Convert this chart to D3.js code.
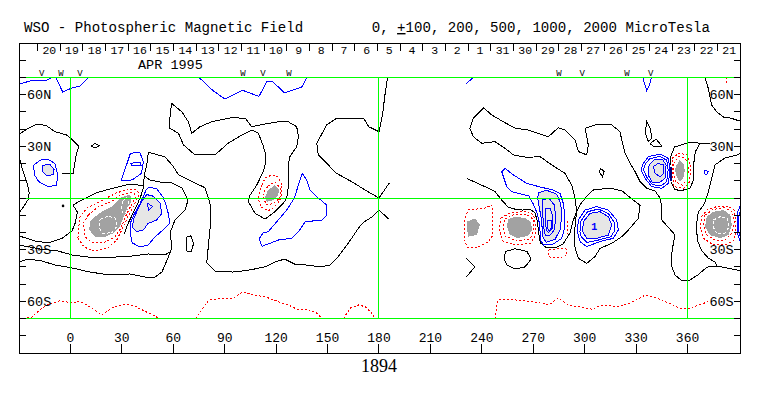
<!DOCTYPE html>
<html>
<head>
<meta charset="utf-8">
<script src="https://cdn.jsdelivr.net/npm/d3@7"></script>
<style>
body { margin: 0; background: #fff; }
svg { display: block; }
text { font-family: "Liberation Mono", "Courier New", monospace; fill: #000; }
</style>
</head>
<body>
<script>
// ---------------------------------------------------------------------------
// DATA  (Carrington longitude, latitude) read off the WSO synoptic chart 1894
// ---------------------------------------------------------------------------
var titleLeft  = "WSO - Photospheric Magnetic Field"
  , monthLabel = "APR 1995"
  , rotation   = "1894"
  , dayLabels  = [20,19,18,17,16,15,14,13,12,11,10,9,8,7,6,5,4,3,2,1,31,30,29,28,27,26,25,24,23,22,21]
  , dayTick0   = -19.2      // first day boundary, degrees
  , dayStep    = 13.22      // degrees of Carrington longitude per day
  , lonTicks   = [0,30,60,90,120,150,180,210,240,270,300,330,360]
  , latLabels  = [60,30,-30,-60]
  , markerLons = [-16.7,-5.5,5.6,100.7,112.3,127.5,285,298.5,324.7,338.5]
  , markerText = ["V","W","V","W","V","W","W","V","W","V"]

// neutral lines (0 contour), open
var blackLines = [
  [[-30,37],[-24.5,40.5],[-19.5,43],[-14,42],[-9,38.5],[-2,36.5],[1.5,33.5],[5,30],[3.5,26],[2.5,20],[1.5,14],[-5,14]],
  [[-30,25],[-28.5,18],[-25.5,9.5],[-24,3],[-24.7,-1],[-28,-6],[-30,-8.7]],
  [[185.5,-12],[180,-7],[176,-11],[171,-14],[168,-17.5],[164,-23.5],[160,-29],[155.5,-35],[151.5,-39],[145.5,-40],[139,-39],[131,-38.5],[125,-35.5],[119.5,-37],[113.5,-40],[103.5,-42],[94.5,-43],[84.5,-42.5],[79.5,-37.5],[80.5,-27.5],[81.5,-17.5],[82,-6],[80.5,0],[78.5,6],[71,9.5],[63,13.5],[59.5,19],[55,24],[45.5,26.5],[44.5,19],[43,12.8]],
  [[43,12.8],[42.8,7],[41.3,1.7],[39.3,-3],[36.2,-9.5],[33.3,-15.5],[31.5,-21]],
  [[43,12.8],[46.4,10.5],[52.3,9.3],[59.3,8.7],[65.1,5.8],[68.6,-1.2],[66.9,-7],[61,-12.8],[58.1,-20.3],[59.3,-28.5],[56.4,-36],[53.4,-43],[49.3,-45.9],[43.5,-45.9],[34.8,-44.1],[23.1,-44.7],[11.4,-43],[0.9,-40.6],[-9,-38.9],[-16.6,-36.6],[-24.7,-35.4],[-30,-37.2]],
  [[42.8,7],[37,8],[32,7.5],[24.3,5.5],[15.5,3.2],[10.3,0.5],[5.6,-1.7],[1.5,-4.1],[4,-8.1],[3,-14],[1,-19],[-5,-23.5],[-13,-26],[-20.5,-25],[-30,-22]],
  [[-30,-27.3],[-17.7,-29.6],[-7.2,-30.8],[1,-33.1],[10.3,-34.3],[26,-34.3],[36,-33.7],[45.3,-32.5],[55,-33.1],[58,-31.4]],
  [[185,70],[183.5,60],[182,48],[180,38.5],[180,0]],
  [[180,38.5],[174,41.4],[171,46.3],[155.3,46.3],[149.5,42.4],[143.7,31.8],[144.6,25],[150.4,19.2],[155.3,14.3],[164,9.5],[172,4.6],[180,0],[186,8.7]],
  [[231,-35],[236,-40],[231,-45.7]],
  [[233,40.5],[235,46.3],[241,52.4],[245.8,48.2],[252.5,44.3],[259.4,40.5],[267,39.5],[278.8,35.6],[284.6,40.8],[288.5,39.5],[294.4,33.7],[296.3,27],[301.2,25],[302.1,30.8],[300.2,40.5],[306,42.4],[315.8,42.4],[320.6,38.5],[321.6,33.7],[323.5,26],[326.4,20.2],[329.4,15.3],[332.3,9.5],[336.2,5.6],[341,4.1],[344,0],[345,-5.8],[345,-12.8],[348.6,-16.8],[352.7,-21.5],[351,-30.2],[350.4,-38.9],[352.7,-44.7],[356.8,-48.2],[361.4,-47.6],[366,-44.7],[371.4,-40.1],[377.2,-39.5],[389,-41.8],[391,-42.4]],
  [[233,40.5],[235,35.6],[240,31.8],[247.7,32.7],[253.5,28.9],[258.4,25],[266.2,23.6],[274,24],[280.8,19.2],[288.5,14.3],[292.4,7.5],[294.4,0],[295.3,-8]],
  [[231.2,11.4],[241.8,6.6],[247.7,3.7],[251.6,-1.2],[255.3,-5.2],[260,-6.7],[264,-7],[268,-6.4],[271,-8.7],[272.5,-13.9],[273.1,-20.3],[274.2,-26.1],[277.4,-28.7],[283.3,-28.7],[287.4,-26.7],[291.4,-20.3],[293.2,-13.4],[295.3,-8]],
  [[370,70],[372,64],[374,54],[377,50],[381,47],[385.5,46.3],[391,44.5]],
  [[391,26],[389,25],[381.8,23.2],[376,19.2],[374.3,12.2],[372,2.9],[369.5,-4],[366.3,-8.1],[365.2,-15.7],[365.7,-24.4],[368,-30.2],[372,-34.8],[376,-37.2],[377.2,-39.5]],
  [[350,19.2],[350.3,24.4],[352.4,29.6],[360.1,32.1],[367.2,31.9],[373,31.4]],
  [[387,30.2],[391,29.6]],
  [[367.2,31.9],[364.5,26.7],[363.5,19.2],[363.5,10.5],[361.5,5.8],[355.9,4.1],[352.4,5.2],[350.3,9.3]]
]

// neutral lines, closed
var blackLoops = [
  [[12.3,30.2],[14.3,31.6],[16.7,30.4],[14.3,29]],
  [[68,-22.6],[70.3,-22],[71.8,-26.7],[70.3,-31.4],[68,-30.8],[67.4,-26.7]],
  [[59,55],[65,50],[68.8,44.3],[70.8,37.6],[75.6,41.4],[82.4,44.3],[94,46.6],[102,46.3],[105.8,41.4],[113.5,43],[121.3,44.3],[127,44.3],[132,41.4],[133,35.6],[132,29.8],[128,24],[127,19.2],[127.5,13.4],[127,5.6],[126.2,0],[124.2,-3.1],[119.3,-8],[113.5,-12.2],[107.7,-8.9],[103.8,-2.1],[104.8,1.7],[108.7,7.5],[112.5,15.3],[114,21],[113.5,26.7],[112.3,30.8],[109.6,37.6],[105.8,39.5],[100,36.6],[92,31.8],[84.3,25],[72.7,25],[66,30.8],[63,37.6],[58,40.5],[58,46.3]],
  [[295.3,-8],[297.3,-4],[300.8,0.6],[304.8,4.6],[314.8,5.8],[321.8,4.1],[328.2,-1.2],[332.3,-4.1],[331.3,-11.8],[326.4,-17.6],[321.6,-22.5],[315.8,-26.3],[309,-29.2],[306,-34],[301.2,-38],[296.3,-35],[294.4,-29.2],[294,-23.4],[294.4,-15.7]],
  [[254,-31],[259.4,-29.5],[266.3,-31],[268.7,-35.5],[265.2,-40],[259.4,-41.2],[254.7,-39],[252.9,-35]],
  [[308.4,15.3],[309.3,17.2],[311.3,15.3],[310.3,12.4]],
  [[336.2,44.3],[338.1,40.6],[339.3,34.8],[337.2,32.7],[335.3,37.7]],
  [[338.1,31.4],[341.6,34.3],[344.9,30.2],[341,29.6]]
]
var blackDots = [[-4.3,-4.6]]

// positive contours (blue)
var blueLines = [
  [[-30,66],[-23.5,68],[-13.5,68.5],[-11,70]],
  [[-8.5,70],[-4.5,61.5],[1,64],[5.5,65],[10.5,70]],
  [[75,70],[83,62.5],[90,57.5],[100.5,62.5],[110,59],[114.5,67.5],[118,67.5],[125,61],[135,64.5],[138,70]],
  [[231,66.5],[235,70]],
  [[334,70],[335,66],[336.2,62.3],[337.5,65],[339,70]],
  [[391,-4],[389.3,-8],[388.9,-14],[389.2,-21],[391,-26]],
  [[391,-7],[390,-10],[389.8,-15],[390,-20],[391,-23]]
]
var blueLoops = [
  [[-21.5,19],[-17.5,22],[-13,22.5],[-9,20],[-7.5,13.5],[-8,7.5],[-13,6.5],[-18.5,9.5],[-21,13.5]],
  [[-16,19],[-12,19.5],[-9.5,16.5],[-10,13.5],[-14,13],[-16.5,15.5]],
  [[35,26],[40.5,26.5],[42.5,21],[41.5,14.3],[36,10.5],[29.5,10],[31,14.3],[33,20]],
  [[35.3,20.2],[40.6,20.7],[41.2,18.8],[35.8,18.6]],
  [[44,4.6],[45.9,6.4],[50.5,5.2],[54,0.6],[55.8,-4.1],[57,-8.7],[58,-14.5],[54,-18.6],[49.3,-22.6],[45.3,-27.3],[40.6,-28.5],[36,-26],[34.8,-20.3],[35,-14.5],[37.5,-8.7],[40.5,-3.5],[43,1.7]],
  [[44.5,2],[48.5,1],[52.3,-3],[53.3,-9],[50.3,-12.8],[45.4,-14.7],[42.5,-18.6],[38.5,-19.5],[36,-17],[37,-12],[39.5,-6],[42,-1.5]],
  [[45,-3],[48,-5],[45.5,-7.3]],
  [[135.3,14.3],[137.8,10.5],[139.8,4.6],[144.6,0],[149.5,-4.1],[149.5,-9.9],[146.6,-12.8],[137,-13.8],[133,-19.6],[129,-23.4],[121.3,-24.4],[116.4,-26.3],[111.8,-28],[110,-23.8],[112.3,-20.3],[115.4,-19.6],[120.3,-13.8],[126.2,-7],[130.6,0],[133,7.5]],
  [[251.6,15.3],[253.5,17.2],[258.4,13.4],[266.2,8.5],[274,6.4],[281.7,4.6],[285.6,2.7],[287.5,-3.1],[288.5,-10.9],[288.5,-16.7],[286.6,-23.4],[281.7,-26.7],[276,-27.3],[274.2,-24.4],[274,-19.7],[273.4,-13.9],[272.2,-8.7],[270,-3.5],[267.5,1.2],[257.4,3.7],[254.5,6.6]],
  [[273,3],[277.8,4.5],[283.7,2.2],[286,-3.1],[286.6,-10.9],[285.6,-18.6],[282.7,-24],[277.5,-25.8],[275.6,-22.5],[275.2,-17.5],[274.5,-11],[273.5,-5.5],[272.6,-0.5]],
  [[275.5,-1],[279.3,-0.2],[282.2,-4],[283.2,-10.9],[282.2,-18.6],[279.5,-22],[277,-21.5],[276,-16.8],[275.5,-9]],
  [[277,-6],[279.8,-5.8],[281.5,-10.9],[281,-17.6],[278.8,-20.2],[277.6,-18.6],[277,-12.5]],
  [[278.3,-12.8],[280.5,-12.8],[280.7,-16.7],[279.3,-19.6],[278.3,-17.5]],
  [[296.3,-12.8],[300.2,-7],[307,-5],[313.8,-7],[318.7,-12.8],[319.6,-18.6],[316.7,-23.4],[309,-25.3],[301.2,-28.2],[297.3,-25.3],[295.7,-19.6]],
  [[297.8,-13.3],[301.6,-8],[308,-6.4],[313.8,-9],[317.3,-14.2],[317.7,-18.6],[315.3,-22.5],[308,-24.4],[301.2,-25.8],[298,-22.5],[297.2,-19.6]],
  [[299.2,-13.8],[303.1,-8.9],[308.9,-7.9],[313.8,-10.9],[315.8,-15.7],[313.8,-21.5],[307,-23.4],[301.2,-23.4],[298.8,-19.6]],
  [[334.2,20.1],[337.1,24],[343.9,25.5],[348.8,23],[349.8,16.3],[348.8,8.5],[344.9,5.6],[339.1,6.6],[335.2,11.4],[332.8,16.3]],
  [[335.5,19.8],[337.8,22.8],[343.8,24.2],[347.8,22],[348.7,16.3],[347.8,9.5],[344.5,7],[339.5,7.8],[336.3,12],[334.2,16.3]],
  [[337.6,19.2],[340.5,22.1],[345.2,22.6],[347.5,19.2],[346.9,11.6],[343.4,8.7],[339.3,9.3],[337,13.4]],
  [[340,18.2],[342.9,20.1],[345.9,19.2],[345.9,14.3],[344,12.4],[341.1,14.3]],
  [[370.2,16.3],[372.1,15.3],[371.2,13.4],[369.8,14.3]]
]
var blueBars = [[[350.3,18],[350.5,10]]]
var blueNotes = [{ lon: 305.6, lat: -16.3, text: "1" }]

// negative contours (red, dashed)
var redLines = [
  [[-30,-70],[-22.6,-69.3],[-18.4,-65.4],[-12.8,-61.6],[-5.7,-59.6],[0,-60.8],[5.7,-60.2],[11.3,-63.1],[18.4,-67.9],[25.5,-63.1],[32.5,-61.6],[38.2,-63.1],[43.9,-66],[49.5,-68.5],[51.5,-70]],
  [[73,-70],[73.6,-69.3],[80.7,-59.2],[89.2,-58.2],[94.9,-58.2],[100.5,-54.4],[106.2,-56.3],[113.5,-57.3],[121.3,-60.2],[127.1,-62.1],[132.9,-65],[138.8,-65],[142.7,-66],[145.6,-68.9],[146.5,-70]],
  [[159.5,-70],[160,-68.9],[163.1,-64],[167.9,-62.1],[171.9,-63.1],[175.8,-67],[177.7,-70]],
  [[247.7,-70],[249.2,-59.2],[255,-58.7],[263.3,-59.6],[273.2,-60.8],[279,-62.1],[284.6,-58.2],[290.3,-62.1],[296,-63.1],[304.4,-64.6],[310,-62.1],[318.6,-63.1],[327,-60.8],[335.5,-56.3],[344,-58.8],[355.4,-64],[361,-64],[369.5,-61.1],[372,-60.2]],
  [[382.5,70],[382.5,66.5]],
  [[289.8,-13.5],[290.2,-17],[289.8,-21]]
]
var redLoops = [
  [[4.4,-23.2],[4.6,-18.6],[5.6,-10.9],[9.5,-6],[16.3,-2.5],[22.1,0.5],[27,3],[32,4.5],[36,5],[39,4.5],[40,1.7],[37.2,-4.1],[33.5,-10.9],[30.5,-17.4],[27,-24.4],[21.9,-29],[14.4,-30.8],[7.9,-28.5]],
  [[10.4,-9.9],[16.3,-5.1],[24.1,-2],[28,1],[33.8,3],[37,3],[38,0.5],[35.8,-3.5],[32.8,-9.3],[29.5,-17.4],[26,-22.6],[20.2,-25.6],[12.6,-25.6],[8.5,-22.5],[7.5,-14.7]],
  [[111.8,7.5],[113.5,11.6],[117.6,13.4],[121.1,12.2],[123.4,7.5],[123.4,1.2],[121.1,-2.9],[118.2,-5.8],[115.3,-7.5],[111.2,-5.2],[109.4,0],[110.6,4.6]],
  [[115.3,7],[119.3,9.3],[122.8,5.2],[122.2,0],[118.8,-2.9],[114.7,-4.1],[112.3,0],[113.5,4.6]],
  [[231.9,-7],[241.8,-5.8],[245.9,-4.1],[246.5,-9.9],[246.5,-21.5],[243.6,-25.6],[237.8,-28.5],[231.9,-29],[229.6,-24.4],[229.6,-14]],
  [[251.2,-11.6],[256.5,-8.7],[264.7,-7.8],[270.2,-9.6],[271.3,-15.7],[271.3,-21.5],[268.7,-26.1],[260,-27.3],[252.3,-25],[250,-18]],
  [[253.5,-12.2],[258.1,-9.9],[265.7,-9.3],[269.8,-12.2],[270.4,-18.6],[268.1,-23.8],[260.5,-25],[253.5,-22.1],[252.4,-16.8]],
  [[279.2,-30.2],[283.8,-29.6],[289.1,-29.6],[289.7,-33.1],[285.6,-34.8],[280.3,-34.8],[278.6,-32.5]],
  [[351,23],[354.9,26],[359.8,25],[361.7,18.2],[361.3,9.5],[357.8,5.6],[352,6.6],[351,14.3]],
  [[352,20.1],[354.9,24],[358.8,23],[360.7,17.2],[359.8,10.5],[356.9,7.5],[353,9.5],[351.7,15.3]],
  [[368.2,-10.9],[371.2,-7],[377,-5],[383.8,-5],[387.2,-7],[388.2,-14],[387.5,-24.4],[381.8,-27.3],[374.2,-26.7],[369,-23.2],[367.5,-17.4]],
  [[370.2,-9.9],[375,-6.6],[381.8,-5.7],[386.2,-8],[387.2,-13.8],[385.8,-20.5],[381.8,-24.4],[376,-24.4],[371.2,-21.5],[369.2,-15.7]]
]
// strongest negative level, drawn white on the grey
var whiteLoops = [
  [[17.3,-12.4],[22.1,-10.5],[26.4,-11.8],[27,-16.7],[24.1,-20.2],[18.6,-20.5],[16.7,-16.7]],
  [[30.5,-2],[32.6,0.2],[34.3,-0.8],[33.8,-5],[32.4,-8.5],[30.2,-8.3],[29.6,-5]],
  [[375,-12.8],[378.9,-10.9],[383.2,-11.8],[384.3,-16.7],[381.8,-20.5],[377.3,-20.9],[375.4,-17.6]]
]
// shaded areas
var darkFills = [
  [[14.4,-10.9],[18.3,-8],[24,-5],[27,-2],[30,0.5],[34,1.8],[35.5,0.8],[35.3,-2],[33.3,-7],[31,-11],[28.7,-16.7],[25,-20.5],[20.2,-22.5],[14.4,-22.5],[11,-18.6],[11.4,-13.8]],
  [[119.3,7.5],[121.7,4.6],[121.1,1.2],[118.2,-1.2],[114.7,-2.3],[113.5,0.6],[115.3,4.6]],
  [[231.2,-13.8],[236,-11.8],[238.9,-15.7],[237,-21.5],[232.1,-22.5],[231.2,-17.6]],
  [[255.3,-12.2],[259.4,-11],[265.2,-11.6],[268.7,-13.9],[269.3,-18.6],[267,-22.1],[260.5,-23.2],[256,-20.9],[254.7,-16.3]],
  [[353.6,19.2],[355.5,22.1],[357.5,20.1],[358.4,16.3],[357.5,11.4],[355.5,9.5],[353.6,12.4],[352.6,16.3]],
  [[371.2,-10.9],[375,-8],[381,-7],[385,-9.9],[385.8,-15.7],[383.8,-21.5],[379,-23.4],[373.1,-21.5],[370.2,-16.7]]
]
var lightFills = [
  [[-16,19],[-12,19.5],[-9.5,16.5],[-10,13.5],[-14,13],[-16.5,15.5]],
  [[44.5,2],[48.5,1],[52.3,-3],[53.3,-9],[50.3,-12.8],[45.4,-14.7],[42.5,-18.6],[38.5,-19.5],[36,-17],[37,-12],[39.5,-6],[42,-1.5]],
  [[273,3],[277.8,4.5],[283.7,2.2],[286,-3.1],[286.6,-10.9],[285.6,-18.6],[282.7,-24],[277.5,-25.8],[275.6,-22.5],[275.2,-17.5],[274.5,-11],[273.5,-5.5],[272.6,-0.5]],
  [[299.2,-13.8],[303.1,-8.9],[308.9,-7.9],[313.8,-10.9],[315.8,-15.7],[313.8,-21.5],[307,-23.4],[301.2,-23.4],[298.8,-19.6]],
  [[337.6,19.2],[340.5,22.1],[345.2,22.6],[347.5,19.2],[346.9,11.6],[343.4,8.7],[339.3,9.3],[337,13.4]]
]

// ---------------------------------------------------------------------------
// SCALES & HELPERS
// ---------------------------------------------------------------------------
var W = 763, H = 396
  , x = d3.scaleLinear().domain([-30, 391]).range([19, 740.7])
  , y = d3.scaleLinear().domain([90, -90]).range([43, 353])
  , line = d3.line().x(function (d) { return x(d[0]) }).y(function (d) { return y(d[1]) })
  , loop = d3.line().x(function (d) { return x(d[0]) }).y(function (d) { return y(d[1]) }).curve(d3.curveLinearClosed)
  , GREEN = "#00ff00", BLUE = "#0000ff", RED = "#ff0000"

var svg = d3.select("body").append("svg").attr("width", W).attr("height", H)
svg.append("rect").attr("width", W).attr("height", H).attr("fill", "#fff")

function paths (data, gen, o) {
	svg.append("g").selectAll("path").data(data).join("path")
		.attr("d", gen)
		.attr("fill", o.fill || "none")
		.attr("stroke", o.stroke || "none")
		.attr("stroke-width", o.width || 1)
		.attr("stroke-dasharray", o.dash || null)
		.attr("shape-rendering", "crispEdges")
}

// ---------------------------------------------------------------------------
// MAP
// ---------------------------------------------------------------------------
paths(lightFills, loop, { fill: "#e6e6e6" })
paths(darkFills,  loop, { fill: "#a2a2a2" })

paths(blackLines, line, { stroke: "#000" })
paths(blackLoops, loop, { stroke: "#000" })
svg.append("g").selectAll("circle").data(blackDots).join("circle")
	.attr("cx", function (d) { return x(d[0]) }).attr("cy", function (d) { return y(d[1]) })
	.attr("r", 1.3).attr("fill", "#000")

paths(blueLines, line, { stroke: BLUE })
paths(blueLoops, loop, { stroke: BLUE })
paths(blueBars,  line, { stroke: "#000080", width: 2.5 })
svg.append("g").selectAll("text").data(blueNotes).join("text")
	.attr("x", function (d) { return x(d.lon) }).attr("y", function (d) { return y(d.lat) + 3.5 })
	.attr("text-anchor", "middle").attr("font-size", 10).attr("font-weight", "bold")
	.style("fill", BLUE).text(function (d) { return d.text })

paths(redLines,   line, { stroke: RED, dash: "2,2" })
paths(redLoops,   loop, { stroke: RED, dash: "2,2" })
paths(whiteLoops, loop, { stroke: "#fff", dash: "3,2" })

// reference grid: +/-70 lat, equator, 0/180/360 lon
var g = svg.append("g").attr("stroke", GREEN).attr("stroke-width", 1).attr("shape-rendering", "crispEdges")
;[70, 0, -70].forEach(function (lat) {
	g.append("line").attr("x1", x(-30)).attr("x2", x(391)).attr("y1", y(lat)).attr("y2", y(lat))
})
;[0, 180, 360].forEach(function (lon) {
	g.append("line").attr("x1", x(lon)).attr("x2", x(lon)).attr("y1", y(70)).attr("y2", y(-70))
})

// ---------------------------------------------------------------------------
// FRAME, AXES, TEXT
// ---------------------------------------------------------------------------
var ax = svg.append("g").attr("stroke", "#000").attr("shape-rendering", "crispEdges")
ax.append("rect").attr("x", x(-30)).attr("y", y(90)).attr("width", x(391) - x(-30)).attr("height", y(-90) - y(90))
	.attr("fill", "none")

d3.range(-80, 81, 10).forEach(function (lat) {
	ax.append("line").attr("x1", x(-30)).attr("x2", x(-30) + 7).attr("y1", y(lat)).attr("y2", y(lat))
	ax.append("line").attr("x1", x(391)).attr("x2", x(391) - 7).attr("y1", y(lat)).attr("y2", y(lat))
})
lonTicks.forEach(function (lon) {
	ax.append("line").attr("x1", x(lon)).attr("x2", x(lon)).attr("y1", y(-90)).attr("y2", y(-90) - 9)
})
d3.range(dayLabels.length + 1).forEach(function (i) {
	var lon = dayTick0 + i * dayStep
	ax.append("line").attr("x1", x(lon)).attr("x2", x(lon)).attr("y1", y(90)).attr("y2", y(90) + 8)
})

var latName = function (d) { return Math.abs(d) + (d > 0 ? "N" : "S") }
svg.append("g").selectAll("text").data(latLabels).join("text")
	.attr("x", x(-30) + 8).attr("y", function (d) { return y(d) + 4.5 })
	.attr("font-size", 13.5).text(latName)
svg.append("g").selectAll("text").data(latLabels).join("text")
	.attr("x", x(391) - 7).attr("y", function (d) { return y(d) + 4.5 })
	.attr("text-anchor", "end").attr("font-size", 13.5).text(latName)

svg.append("g").selectAll("text").data(lonTicks).join("text")
	.attr("x", function (d) { return x(d) }).attr("y", 342)
	.attr("text-anchor", "middle").attr("font-size", 13).text(function (d) { return d })

svg.append("g").selectAll("text").data(dayLabels).join("text")
	.attr("x", function (d, i) { return x(dayTick0 + (i + 0.5) * dayStep) + 0.5 }).attr("y", 53.5)
	.attr("text-anchor", "middle").attr("font-size", 11.5).text(function (d) { return d })

svg.append("g").selectAll("text").data(markerLons).join("text")
	.attr("x", function (d) { return x(d) }).attr("y", 75.5)
	.attr("text-anchor", "middle").attr("font-size", 9).text(function (d, i) { return markerText[i] })

svg.append("text").attr("x", 138).attr("y", 68.5).attr("font-size", 13.5).text(monthLabel)
svg.append("text").attr("x", 24).attr("y", 32).attr("font-size", 14.1).text(titleLeft)

var t = svg.append("text").attr("x", 371.7).attr("y", 32).attr("font-size", 14.1)
t.append("tspan").text("0, ")
t.append("tspan").attr("text-decoration", "underline").style("text-decoration", "underline").text("+")
t.append("tspan").text("100, 200, 500, 1000, 2000 MicroTesla")

svg.append("text").attr("x", x(180)).attr("y", 372).attr("text-anchor", "middle")
	.style("font-family", '"Liberation Serif", "Times New Roman", serif').attr("font-size", 18).text(rotation)
</script>
</body>
</html>
